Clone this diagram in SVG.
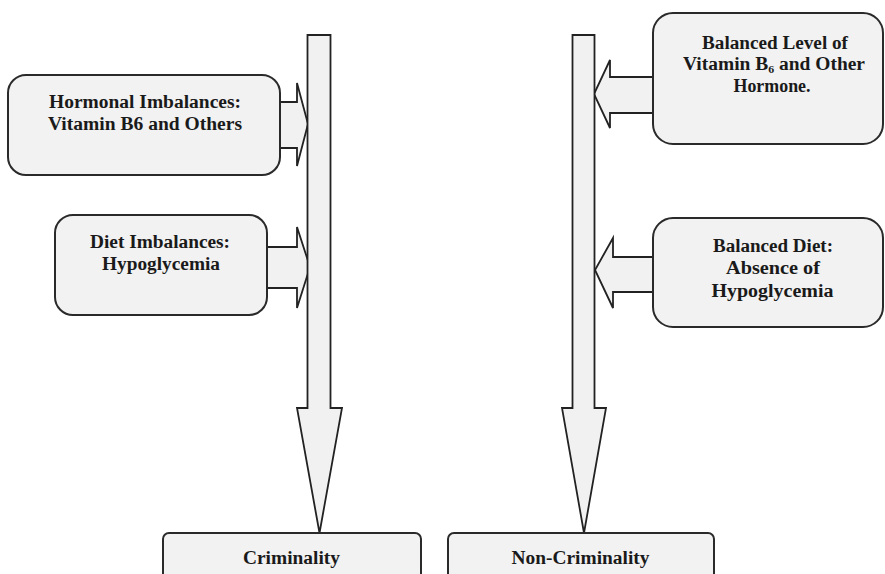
<svg xmlns="http://www.w3.org/2000/svg" width="885" height="574" viewBox="0 0 885 574">
<style>
.box{fill:#f2f2f2;stroke:#2a2a2a;stroke-width:2}
.arr{fill:#f1f1f1;stroke:#222;stroke-width:1.8;stroke-linejoin:miter}
.t{font-family:"Liberation Serif","Times New Roman",serif;font-weight:bold;font-size:18px;fill:#1a1a1a;text-anchor:middle}
</style>
<rect width="885" height="574" fill="#ffffff"/>
<g id="connectors">
<polygon class="arr" points="280,102 297,102 297,83 308,124 297,166 297,148 280,148"/>
<polygon class="arr" points="267,247 297,247 297,227 310,267 297,308 297,288 267,288"/>
<polygon class="arr" points="653,77 610,77 610,60 594,94 610,128 610,113 653,113"/>
<polygon class="arr" points="653,257 613,257 613,238 595,270 613,308 613,292 653,292"/>
<polygon class="arr" points="307.5,35 330.5,35 330.5,408 342,408 319.5,533 297,408 307.5,408"/>
<polygon class="arr" points="572.5,35 594.5,35 594.5,408 606,408 584,533 562,408 572.5,408"/>
</g>
<g id="hormonal">
<rect class="box" x="8" y="75" width="272" height="100" rx="18"/>
<text class="t" x="145" y="107.5" textLength="192" lengthAdjust="spacingAndGlyphs">Hormonal Imbalances:</text>
<text class="t" x="145" y="129.5" textLength="194" lengthAdjust="spacingAndGlyphs">Vitamin B6 and Others</text>
</g>
<g id="diet">
<rect class="box" x="55" y="215" width="212" height="100" rx="18"/>
<text class="t" x="160" y="248" textLength="140" lengthAdjust="spacingAndGlyphs">Diet Imbalances:</text>
<text class="t" x="161" y="270" textLength="118" lengthAdjust="spacingAndGlyphs">Hypoglycemia</text>
</g>
<g id="balanced-level">
<rect class="box" x="653" y="13" width="230" height="131" rx="20"/>
<text class="t" x="775" y="48.5" textLength="146" lengthAdjust="spacingAndGlyphs">Balanced Level of</text>
<text class="t" x="774" y="70" textLength="182" lengthAdjust="spacingAndGlyphs">Vitamin B<tspan font-size="11" dy="3">6</tspan><tspan dy="-3"> and Other</tspan></text>
<text class="t" x="772" y="91.5" textLength="77" lengthAdjust="spacingAndGlyphs">Hormone.</text>
</g>
<g id="balanced-diet">
<rect class="box" x="653" y="218" width="230" height="109" rx="20"/>
<text class="t" x="773" y="251.5" textLength="120" lengthAdjust="spacingAndGlyphs">Balanced Diet:</text>
<text class="t" x="773" y="273.5" textLength="94" lengthAdjust="spacingAndGlyphs">Absence of</text>
<text class="t" x="772.5" y="296.5" textLength="122" lengthAdjust="spacingAndGlyphs">Hypoglycemia</text>
</g>
<g id="criminality">
<rect class="box" x="163" y="533" width="258" height="60" rx="6"/>
<text class="t" x="291.5" y="564" textLength="97" lengthAdjust="spacingAndGlyphs">Criminality</text>
</g>
<g id="non-criminality">
<rect class="box" x="448" y="533" width="266" height="60" rx="6"/>
<text class="t" x="580.5" y="564" textLength="138" lengthAdjust="spacingAndGlyphs">Non-Criminality</text>
</g>
</svg>
